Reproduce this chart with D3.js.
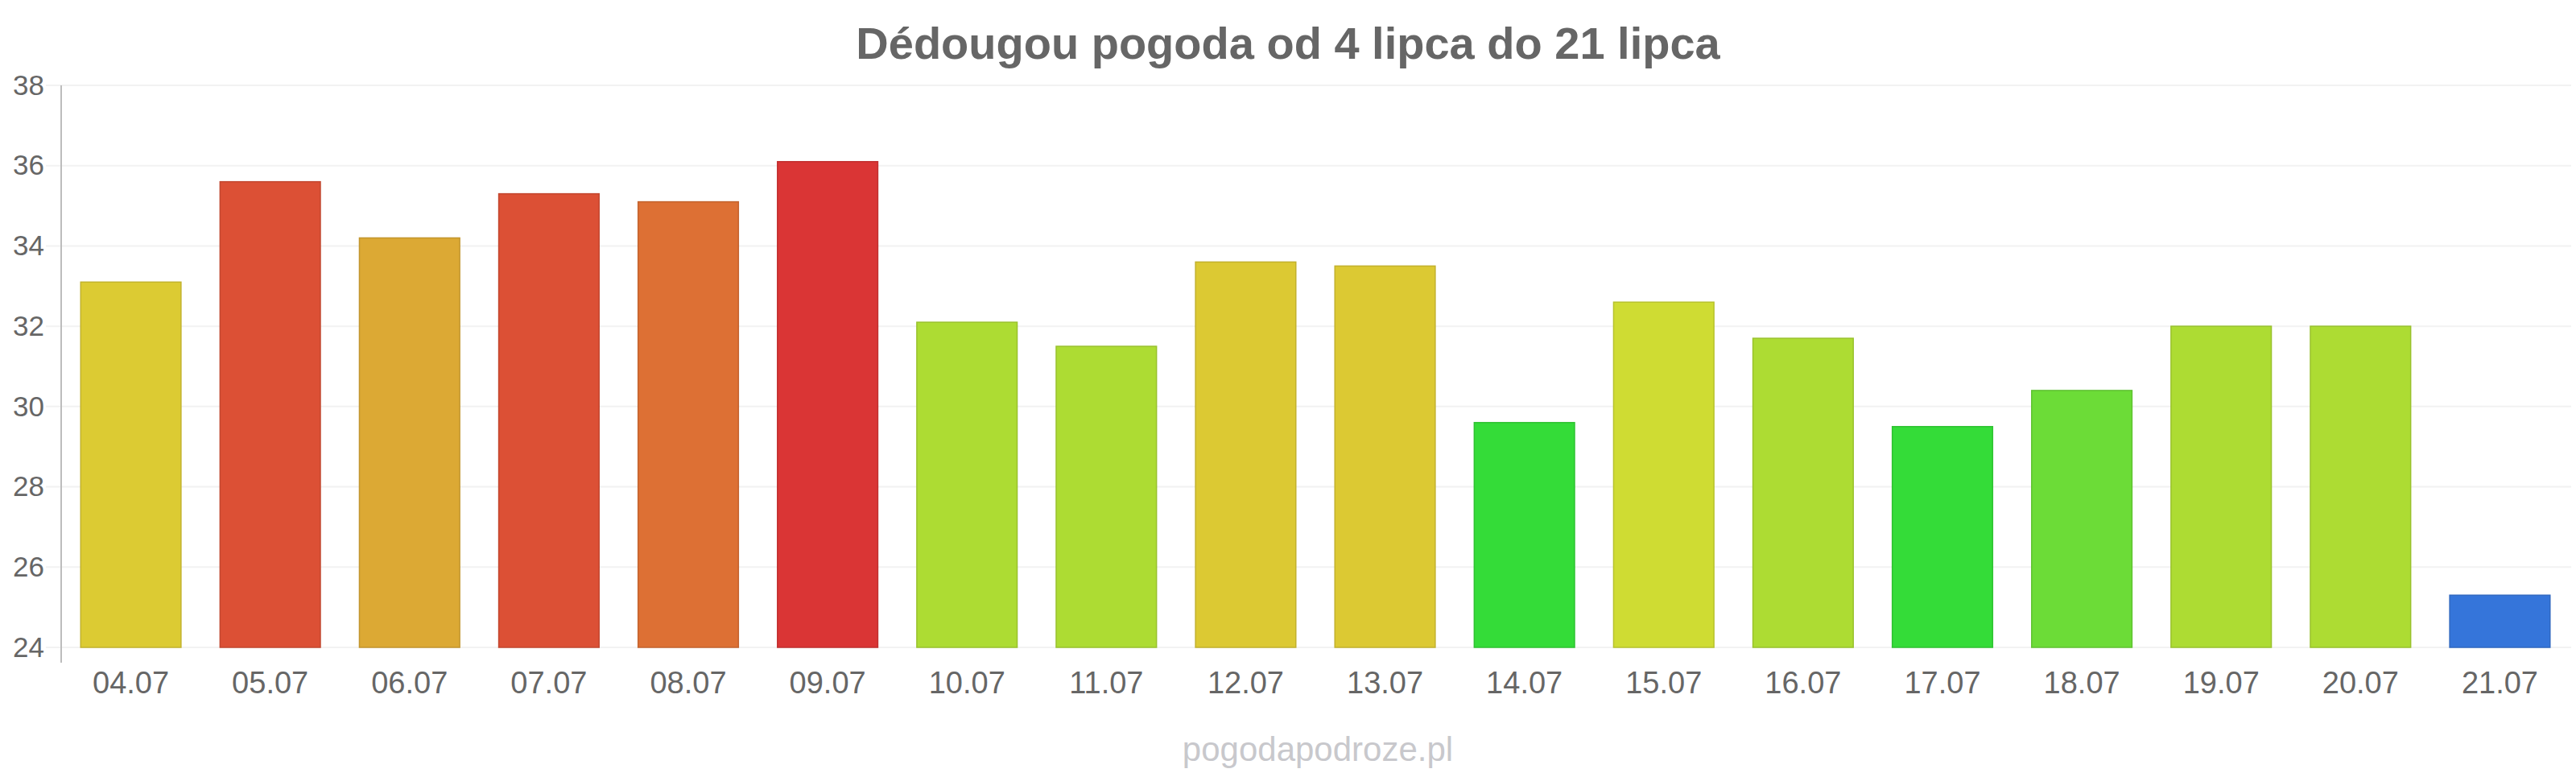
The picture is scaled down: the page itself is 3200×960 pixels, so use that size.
<!DOCTYPE html>
<html>
<head>
<meta charset="utf-8">
<script src="https://cdn.jsdelivr.net/npm/d3@7"></script>
<style>
  body { margin: 0; background: #fff; }
  svg text { font-family: "Liberation Sans", Arial, sans-serif; }
</style>
</head>
<body>
<div id="chart"></div>
<script>
// data
const days = ["04.07", "05.07", "06.07", "07.07", "08.07", "09.07", "10.07", "11.07", "12.07",
              "13.07", "14.07", "15.07", "16.07", "17.07", "18.07", "19.07", "20.07", "21.07"];
const temps = [33.1, 35.6, 34.2, 35.3, 35.1, 36.1, 32.1, 31.5, 33.6,
               33.5, 29.6, 32.6, 31.7, 29.5, 30.4, 32.0, 32.0, 25.3];
const barColors = ["#dccb33", "#dc5035", "#dca934", "#dc5035", "#dd7034", "#da3535", "#addc33", "#addc33", "#dcc933",
                   "#dcc933", "#34dc38", "#cfdc33", "#addc33", "#34dc38", "#6cdc37", "#addc33", "#addc33", "#3575da"];
const yTicks = [24, 26, 28, 30, 32, 34, 36, 38];
const title = "Dédougou pogoda od 4 lipca do 21 lipca";
const source = "pogodapodroze.pl";

const width = 3200, height = 960;
const margin = {top: 106, right: 8, bottom: 156, left: 76};

const svg = d3.select("#chart").append("svg")
    .attr("width", width)
    .attr("height", height);

const x = d3.scaleBand()
    .domain(days)
    .range([margin.left, width - margin.right])
    .paddingInner(0.28)
    .paddingOuter(0.14);

const y = d3.scaleLinear()
    .domain([24, 38])
    .range([height - margin.bottom, margin.top]);

// grid lines (they start a little left of the axis, like ticks)
svg.append("g")
    .selectAll("line")
    .data(yTicks)
    .join("line")
    .attr("x1", margin.left - 19)
    .attr("x2", width - 6)
    .attr("y1", d => y(d))
    .attr("y2", d => y(d))
    .attr("stroke", "#f2f2f2")
    .attr("stroke-width", 2);

// y axis
const yAxis = svg.append("g")
    .attr("transform", `translate(${margin.left},0)`)
    .call(d3.axisLeft(y).tickValues(yTicks).tickSize(0).tickPadding(21));
yAxis.select(".domain").remove();
yAxis.selectAll("text")
    .attr("fill", "#666")
    .style("font-size", "35px");

svg.append("line")
    .attr("x1", margin.left)
    .attr("x2", margin.left)
    .attr("y1", margin.top)
    .attr("y2", height - margin.bottom + 19)
    .attr("stroke", "#bdbdbd")
    .attr("stroke-width", 2);

// bars
svg.append("g")
    .selectAll("rect")
    .data(days)
    .join("rect")
    .attr("x", d => x(d))
    .attr("y", (d, i) => y(temps[i]))
    .attr("width", x.bandwidth())
    .attr("height", (d, i) => y(24) - y(temps[i]))
    .attr("fill", (d, i) => barColors[i])
    .attr("stroke", (d, i) => d3.color(barColors[i]).darker(0.35))
    .attr("stroke-width", 1.5);

// x axis labels
const xAxis = svg.append("g")
    .attr("transform", `translate(0,${height - margin.bottom})`)
    .call(d3.axisBottom(x).tickSize(0).tickPadding(30));
xAxis.select(".domain").remove();
xAxis.selectAll("text")
    .attr("fill", "#666")
    .style("font-size", "38px");

// title
svg.append("text")
    .attr("x", width / 2)
    .attr("y", 73)
    .attr("text-anchor", "middle")
    .attr("fill", "#666")
    .style("font-size", "56px")
    .style("font-weight", "bold")
    .text(title);

// watermark
svg.append("text")
    .attr("x", 1637)
    .attr("y", 945)
    .attr("text-anchor", "middle")
    .attr("fill", "#c8c8cc")
    .style("font-size", "42px")
    .text(source);
</script>
</body>
</html>
